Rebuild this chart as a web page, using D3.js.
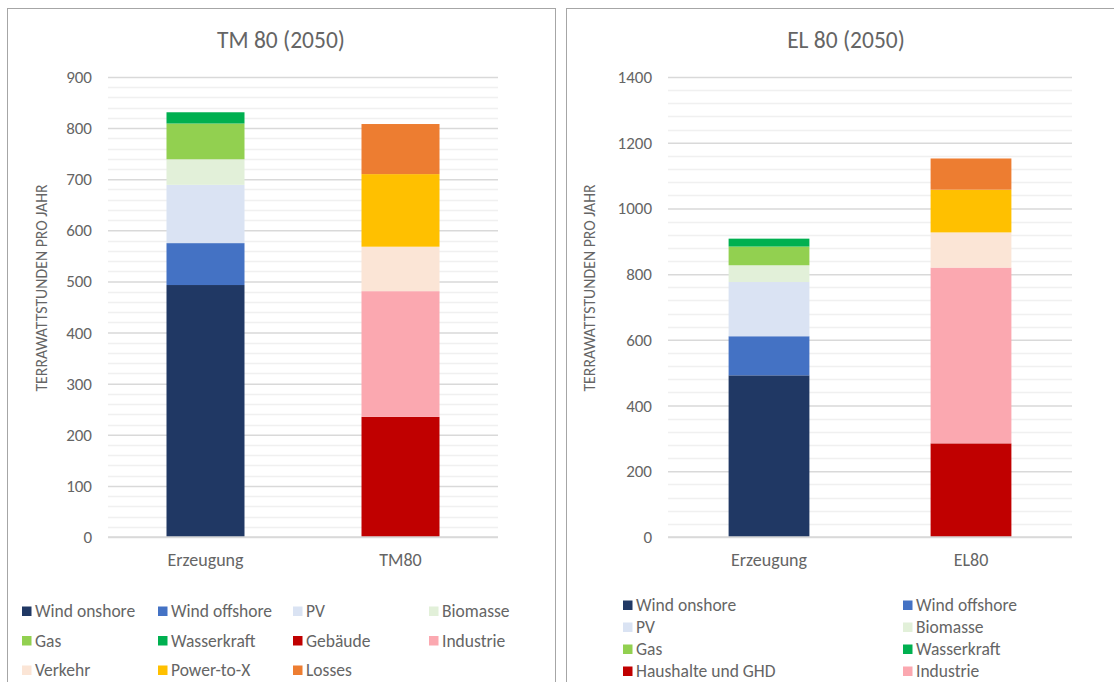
<!DOCTYPE html>
<html>
<head>
<meta charset="utf-8">
<script src="https://cdn.jsdelivr.net/npm/d3@7"></script>
<style>
  html, body { margin: 0; padding: 0; background: #fff; }
  svg { display: block; font-family: Carlito, Calibri, Lato, "Open Sans", sans-serif; }
</style>
</head>
<body>
<svg id="chart" width="1114" height="682"></svg>
<script>
// ---- Data (TWh per year) ----
const tmCategories = ["Erzeugung", "TM80"];
const elCategories = ["Erzeugung", "EL80"];

const tmSeries = ["Wind onshore", "Wind offshore", "PV", "Biomasse", "Gas", "Wasserkraft",
                  "Gebäude", "Industrie", "Verkehr", "Power-to-X", "Losses"];
const elSeries = ["Wind onshore", "Wind offshore", "PV", "Biomasse", "Gas", "Wasserkraft",
                  "Haushalte und GHD", "Industrie", "Verkehr", "Power-to-X", "Losses"];

// values per series, in the order of the series lists above
const tmErzeugung = [493, 82, 114, 50, 70, 22, 0, 0, 0, 0, 0];
const tmVerbrauch = [0, 0, 0, 0, 0, 0, 235, 246, 87, 142, 98];
const elErzeugung = [492, 119, 165, 51, 57, 24, 0, 0, 0, 0, 0];
const elVerbrauch = [0, 0, 0, 0, 0, 0, 285, 535, 107, 130, 95];

const seriesColors = ["#203864", "#4472c4", "#dae3f3", "#e2f0d9", "#92d050", "#00b050",
                      "#c00000", "#fba8b0", "#fbe5d6", "#ffc000", "#ed7d31"];

const tmTicks = [0, 100, 200, 300, 400, 500, 600, 700, 800, 900];
const elTicks = [0, 200, 400, 600, 800, 1000, 1200, 1400];

const svg = d3.select("#chart");
const textColor = "#656565";
const fontStack = "Carlito, Calibri, Lato, 'Open Sans', sans-serif";

function drawPanel(cfg) {
  const g = svg.append("g");

  // panel frame
  g.append("rect")
    .attr("x", cfg.frame[0] + 0.5).attr("y", cfg.frame[1] + 0.5)
    .attr("width", cfg.frame[2]).attr("height", cfg.frame[3])
    .attr("fill", "#fff").attr("stroke", "#a6a6a6").attr("stroke-width", 1);

  // title
  g.append("text")
    .attr("x", cfg.frame[0] + cfg.frame[2] / 2).attr("y", 48)
    .attr("text-anchor", "middle")
    .attr("font-size", 23.5).attr("fill", textColor)
    .text(cfg.title);

  const x = d3.scaleBand().domain(cfg.categories)
    .range([cfg.plot.left, cfg.plot.right])
    .paddingInner(0.6).paddingOuter(0.3);
  const yMax = cfg.ticks[cfg.ticks.length - 1];
  const y = d3.scaleLinear().domain([0, yMax]).range([cfg.plot.bottom, cfg.plot.top]);

  // minor gridlines
  const minor = d3.range(0, yMax + 1e-9, cfg.minorStep).filter(v => !cfg.ticks.includes(v));
  g.append("g").selectAll("line").data(minor).join("line")
    .attr("x1", cfg.plot.left).attr("x2", cfg.plot.right)
    .attr("y1", d => Math.round(y(d)) + 0.5).attr("y2", d => Math.round(y(d)) + 0.5)
    .attr("stroke", "#f0f0f0").attr("stroke-width", 1.5);

  // major gridlines + tick labels via axis
  const axis = d3.axisLeft(y).tickValues(cfg.ticks)
    .tickSize(-(cfg.plot.right - cfg.plot.left)).tickPadding(16)
    .tickFormat(d3.format("d"));
  const ag = g.append("g")
    .attr("transform", `translate(${cfg.plot.left},0)`)
    .call(axis)
    .attr("font-size", 17).attr("font-family", fontStack);
  ag.select(".domain").remove();
  ag.selectAll(".tick line").attr("stroke", "#d9d9d9").attr("stroke-width", 1.5);
  ag.selectAll(".tick text").attr("fill", textColor);

  // stacked bars
  const rows = cfg.categories.map((c, i) => {
    const row = { category: c };
    cfg.series.forEach((s, j) => { row[s] = cfg.values[i][j]; });
    return row;
  });
  const stacked = d3.stack().keys(cfg.series)(rows);
  g.append("g").selectAll("g").data(stacked).join("g")
    .attr("fill", (d, i) => seriesColors[i])
    .selectAll("rect").data(d => d.filter(p => p[1] - p[0] > 0)).join("rect")
    .attr("x", d => x(d.data.category))
    .attr("width", x.bandwidth())
    .attr("y", d => y(d[1]))
    .attr("height", d => y(d[0]) - y(d[1]));

  // category axis
  const xg = g.append("g").attr("transform", `translate(0,${cfg.plot.bottom})`)
    .call(d3.axisBottom(x).tickSize(0).tickPadding(16))
    .attr("font-size", 18).attr("font-family", fontStack);
  xg.select(".domain").remove();
  xg.selectAll(".tick text").attr("fill", textColor);

  // baseline
  g.append("line")
    .attr("x1", cfg.plot.left).attr("x2", cfg.plot.right)
    .attr("y1", y(0)).attr("y2", y(0))
    .attr("stroke", "#d9d9d9").attr("stroke-width", 1.5);

  // y axis title
  g.append("text")
    .attr("transform", `translate(${cfg.yTitleX},${cfg.yTitleY}) rotate(-90)`)
    .attr("text-anchor", "middle").attr("font-size", 15.8).attr("fill", textColor)
    .text("TERRAWATTSTUNDEN PRO JAHR");

  // legend (rows that fall below the panel are not drawn)
  const lg = g.append("g");
  cfg.series.forEach((s, i) => {
    const col = i % cfg.legend.cols, row = Math.floor(i / cfg.legend.cols);
    const lx = cfg.legend.x[col], ly = cfg.legend.y0 + row * cfg.legend.dy;
    if (ly > 676) return;
    lg.append("rect").attr("x", lx).attr("y", ly - 4.5).attr("width", 9.5).attr("height", 9.5)
      .attr("fill", seriesColors[i]);
    lg.append("text").attr("x", lx + 13).attr("y", ly + 6)
      .attr("font-size", 17.5).attr("fill", textColor).text(s);
  });
}

drawPanel({
  title: "TM 80 (2050)",
  frame: [7, 8, 548, 700],
  plot: { left: 108, right: 498, top: 77, bottom: 537 },
  categories: tmCategories, series: tmSeries,
  values: [tmErzeugung, tmVerbrauch],
  ticks: tmTicks, minorStep: 20,
  yTitleX: 47, yTitleY: 288,
  legend: { cols: 4, x: [22, 158, 293, 429], y0: 611, dy: 29.5 }
});

drawPanel({
  title: "EL 80 (2050)",
  frame: [566, 8, 560, 700],
  plot: { left: 668, right: 1072, top: 77, bottom: 537 },
  categories: elCategories, series: elSeries,
  values: [elErzeugung, elVerbrauch],
  ticks: elTicks, minorStep: 40,
  yTitleX: 595, yTitleY: 288,
  legend: { cols: 2, x: [623, 903], y0: 605, dy: 22 }
});
</script>
</body>
</html>
